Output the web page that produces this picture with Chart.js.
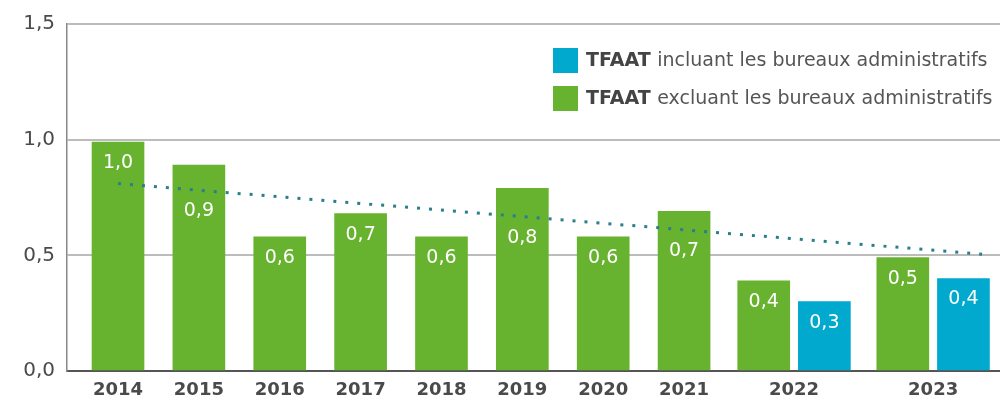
<!DOCTYPE html>
<html>
<head>
<meta charset="utf-8">
<script src="https://cdn.jsdelivr.net/npm/chart.js@4"></script>
<style>
  html, body { margin: 0; padding: 0; background: #fff; }
</style>
</head>
<body>
<canvas id="tfaat" width="1000" height="402"></canvas>
<script>
const years = ['2014', '2015', '2016', '2017', '2018', '2019', '2020', '2021', '2022', '2023'];
const excluant = [0.99, 0.89, 0.58, 0.68, 0.58, 0.79, 0.58, 0.69, 0.39, 0.49];
const incluant = [null, null, null, null, null, null, null, null, 0.30, 0.40];
const trend = [0.81, 0.505];
const yTicks = [0, 0.5, 1.0, 1.5];
const yTickLabels = ['0,0', '0,5', '1,0', '1,5'];

const GREEN = '#67b22f';
const BLUE = '#00a9cd';
const TEXT = '#4a4a4a';
const FONT = "'DejaVu Sans', sans-serif";

// slot layout: single years take one slot, years with two bars a wider one
const PAIR_WIDTH = 1.72;
const PAIR_OFFSET = 0.375;
let cursor = -0.5;
const centers = years.map((y, i) => {
  const w = incluant[i] == null ? 1 : PAIR_WIDTH;
  const c = cursor + w / 2;
  cursor += w;
  return c;
});
const greenPts = years.map((y, i) => ({ x: incluant[i] == null ? centers[i] : centers[i] - PAIR_OFFSET, y: excluant[i] }));
const bluePts = years.map((y, i) => ({ x: centers[i] + PAIR_OFFSET, y: incluant[i] })).filter(p => p.y != null);
const trendPts = [
  { x: greenPts[0].x, y: trend[0] },
  { x: bluePts[bluePts.length - 1].x + 0.23, y: trend[1] }
];

const fmt = v => v.toFixed(1).replace('.', ',');

const barLabels = {
  id: 'barLabels',
  afterDatasetsDraw(chart) {
    const ctx = chart.ctx;
    const line = chart.getDatasetMeta(2).data;
    const trendAt = x => line[0].y + (x - line[0].x) * (line[1].y - line[0].y) / (line[1].x - line[0].x);
    ctx.save();
    ctx.fillStyle = '#fff';
    ctx.font = '19px ' + FONT;
    ctx.textAlign = 'center';
    ctx.textBaseline = 'middle';
    [0, 1].forEach(d => {
      const ds = chart.data.datasets[d];
      chart.getDatasetMeta(d).data.forEach((bar, j) => {
        let cy = bar.y + 21;
        const ty = trendAt(bar.x);
        if (Math.abs(cy - ty) < 14) cy = ty + 21;
        ctx.fillText(fmt(ds.data[j].y), bar.x, cy);
      });
    });
    ctx.restore();
  }
};

const boldLegend = {
  id: 'boldLegend',
  afterDraw(chart) {
    const ctx = chart.ctx;
    const items = [chart.data.datasets[1], chart.data.datasets[0]];
    ctx.save();
    ctx.textBaseline = 'middle';
    items.forEach((ds, i) => {
      const top = 48 + i * 38;
      ctx.fillStyle = ds.backgroundColor;
      ctx.fillRect(553, top, 25, 25);
      const words = ds.label.split(' ');
      const first = words.shift();
      ctx.font = 'bold 19px ' + FONT;
      ctx.fillStyle = '#444';
      ctx.fillText(first, 586, top + 13);
      const w = ctx.measureText(first + ' ').width;
      ctx.font = '19px ' + FONT;
      ctx.fillStyle = '#555';
      ctx.fillText(words.join(' '), 586 + w, top + 13);
    });
    ctx.restore();
  }
};

new Chart(document.getElementById('tfaat'), {
  type: 'bar',
  data: {
    datasets: [
      {
        label: 'TFAAT excluant les bureaux administratifs',
        data: greenPts,
        backgroundColor: GREEN,
        barThickness: 52,
        grouped: false,
        order: 1
      },
      {
        label: 'TFAAT incluant les bureaux administratifs',
        data: bluePts,
        backgroundColor: BLUE,
        barThickness: 52,
        grouped: false,
        order: 1
      },
      {
        type: 'line',
        label: 'Tendance',
        data: trendPts,
        borderColor: '#2b7f8c',
        borderWidth: 3,
        borderDash: [3, 9],
        pointRadius: 0,
        fill: false,
        order: 0
      }
    ]
  },
  options: {
    responsive: false,
    animation: false,
    layout: { padding: { top: 22, right: 0, left: 0, bottom: 0 } },
    plugins: {
      legend: { display: false },
      tooltip: { enabled: false }
    },
    scales: {
      x: {
        type: 'linear',
        offset: false,
        min: -0.631,
        max: 10.907,
        grid: { display: false, drawTicks: false },
        border: { display: true, color: '#555', width: 2 },
        afterBuildTicks: scale => {
          scale.ticks = centers.map(v => ({ value: v }));
        },
        ticks: {
          autoSkip: false,
          maxRotation: 0,
          padding: 9,
          color: TEXT,
          font: { family: FONT, size: 18, weight: 'bold' },
          callback: (v, i) => years[i]
        },
        afterFit: scale => { scale.height = 31; }
      },
      y: {
        min: 0,
        max: 1.5,
        afterBuildTicks: scale => {
          scale.ticks = yTicks.map(v => ({ value: v }));
        },
        grid: { color: '#bcbcbc', lineWidth: 2, drawTicks: false },
        border: { display: true, color: '#888', width: 1.5 },
        ticks: {
          padding: 12,
          color: TEXT,
          font: { family: FONT, size: 20 },
          callback: (v, i) => yTickLabels[i]
        },
        afterFit: scale => { scale.width = 67; }
      }
    }
  },
  plugins: [barLabels, boldLegend]
});
</script>
</body>
</html>
